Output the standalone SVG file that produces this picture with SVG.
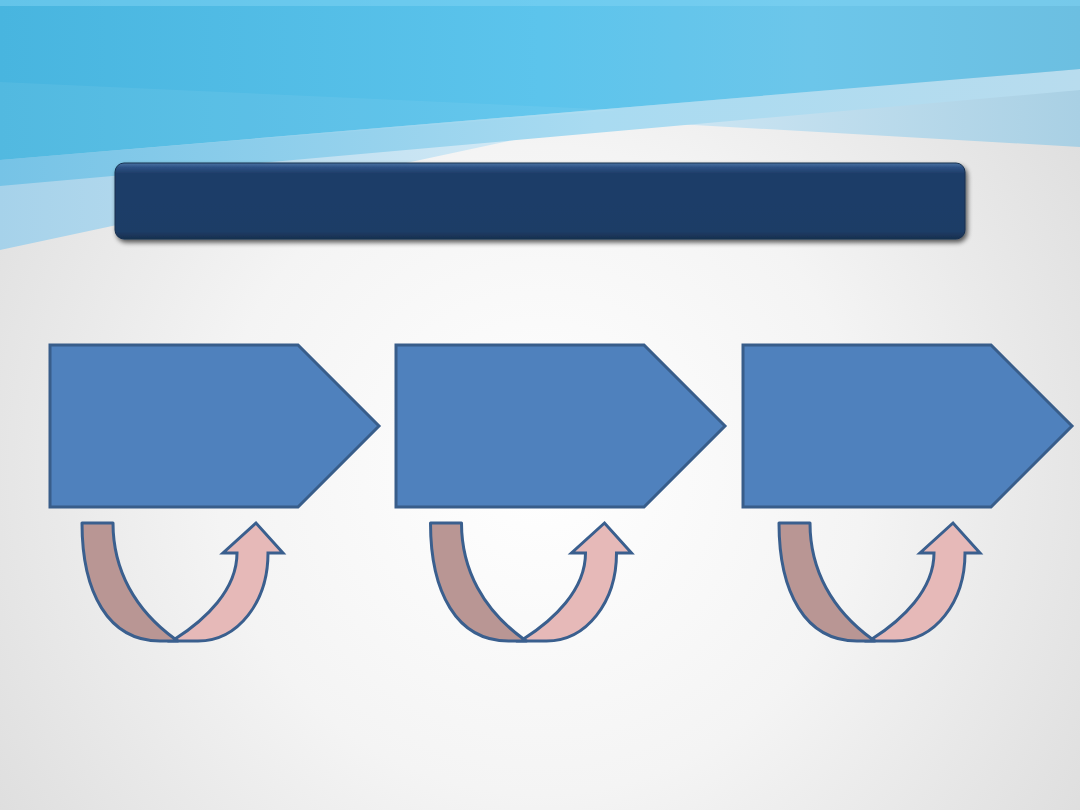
<svg xmlns="http://www.w3.org/2000/svg" width="1080" height="810" viewBox="0 0 1080 810">
  <defs>
    <radialGradient id="bg" cx="540" cy="470" r="720" gradientUnits="userSpaceOnUse">
      <stop offset="0" stop-color="#ffffff"/>
      <stop offset="0.45" stop-color="#f4f4f4"/>
      <stop offset="1" stop-color="#d9d9d9"/>
    </radialGradient>
    <linearGradient id="lightBand" x1="0" y1="0" x2="1080" y2="0" gradientUnits="userSpaceOnUse">
      <stop offset="0" stop-color="#a6d2ea"/>
      <stop offset="0.5" stop-color="#d3eaf6"/>
      <stop offset="0.6" stop-color="#cfe7f4"/>
      <stop offset="1" stop-color="#a9d0e4"/>
    </linearGradient>
    <linearGradient id="darkBlue" x1="0" y1="0" x2="1080" y2="0" gradientUnits="userSpaceOnUse">
      <stop offset="0" stop-color="#48b5df"/>
      <stop offset="0.5" stop-color="#5cc4ec"/>
      <stop offset="0.75" stop-color="#6cc6ea"/>
      <stop offset="1" stop-color="#6cbfe1"/>
    </linearGradient>
    <linearGradient id="medBand" x1="0" y1="0" x2="1080" y2="0" gradientUnits="userSpaceOnUse">
      <stop offset="0" stop-color="#76c3e6"/>
      <stop offset="0.55" stop-color="#a9dbf1"/>
      <stop offset="1" stop-color="#b8dcee"/>
    </linearGradient>
    <linearGradient id="barFill" x1="0" y1="163" x2="0" y2="239" gradientUnits="userSpaceOnUse">
      <stop offset="0" stop-color="#4a72a3"/>
      <stop offset="0.06" stop-color="#2c5083"/>
      <stop offset="0.14" stop-color="#1e3d68"/>
      <stop offset="0.9" stop-color="#1e3c66"/>
      <stop offset="1" stop-color="#17304f"/>
    </linearGradient>
    <filter id="shadow" x="-5%" y="-20%" width="110%" height="150%">
      <feGaussianBlur in="SourceAlpha" stdDeviation="2.5"/>
      <feOffset dx="2" dy="3" result="b"/>
      <feComponentTransfer><feFuncA type="linear" slope="0.65"/></feComponentTransfer>
      <feMerge><feMergeNode/><feMergeNode in="SourceGraphic"/></feMerge>
    </filter>
    <style>
      .pent { fill: #4f81bd; stroke: #385d8a; stroke-width: 3; stroke-linejoin: miter; }
      .bandL { fill: #b99694; stroke: #3a5f8e; stroke-width: 3; stroke-linejoin: round; }
      .bandR { fill: #e6b9b8; stroke: #3a5f8e; stroke-width: 3; stroke-linejoin: miter; }
    </style>
    <g id="uarrow">
      <path class="bandR" d="M175,639 C205,620 237,590 237,553 L223,553 L256,523 L283,553 L268,553 C268,602 238,641 198,641 L172,641 Z"/>
      <path class="bandL" d="M82,523 L113,523 C113,570 135,610 175,639 L178,641 L160,641 C108,641 82,592 82,523 Z"/>
    </g>
  </defs>

  <!-- background -->
  <rect x="0" y="0" width="1080" height="810" fill="url(#bg)"/>
  <polygon points="0,0 1080,0 1080,147 607,120 0,250" fill="url(#lightBand)"/>
  <polygon points="0,160 1080,69 1080,90 0,186" fill="url(#medBand)"/>
  <polygon points="0,0 1080,0 1080,69 0,160" fill="url(#darkBlue)"/>
  <polygon points="0,82 620,110 0,160" fill="#ffffff" opacity="0.06"/>
  <rect x="0" y="0" width="1080" height="6" fill="#7fd3f3" opacity="0.5"/>

  <!-- title bar -->
  <g id="title-bar" filter="url(#shadow)">
    <rect x="115" y="163" width="850" height="76" rx="9" ry="9" fill="url(#barFill)" stroke="#17304f" stroke-width="1"/>
  </g>

  <!-- process nodes -->
  <g id="node-1">
    <polygon class="pent" points="50,345 298,345 379,426 298,507 50,507"/>
  </g>
  <g id="node-2">
    <polygon class="pent" points="396,345 644,345 725,426 644,507 396,507"/>
  </g>
  <g id="node-3">
    <polygon class="pent" points="743,345 991,345 1072,426 991,507 743,507"/>
  </g>

  <!-- connectors -->
  <g id="connectors">
    <use href="#uarrow"/>
    <use href="#uarrow" transform="translate(348.5,0)"/>
    <use href="#uarrow" transform="translate(697,0)"/>
  </g>
</svg>
